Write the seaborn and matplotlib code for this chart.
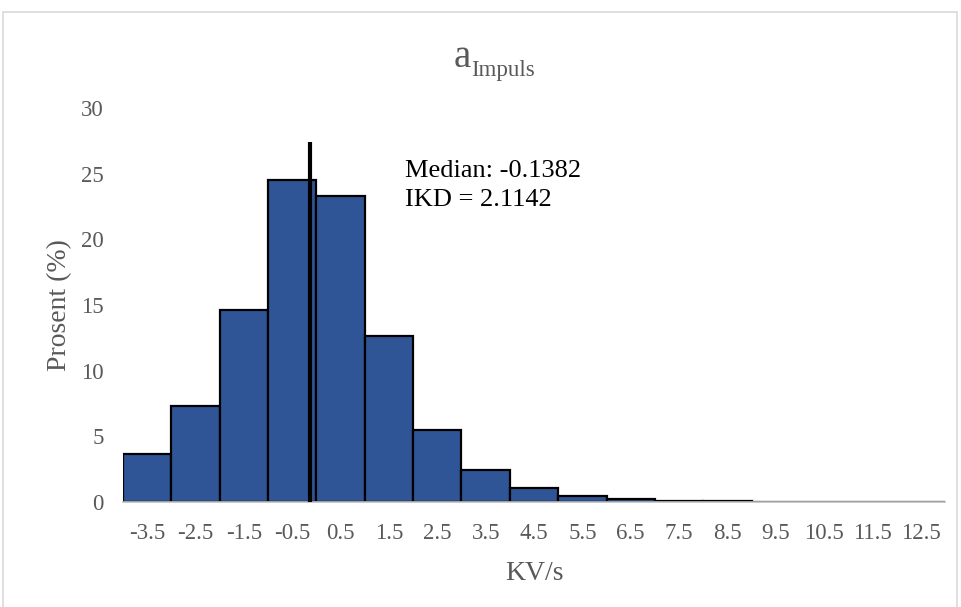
import matplotlib
matplotlib.use("Agg")
import matplotlib.pyplot as plt
import matplotlib.patches as patches
import pandas as pd
import seaborn as sns

# Data
bin_centers = [-3.5, -2.5, -1.5, -0.5, 0.5, 1.5, 2.5, 3.5, 4.5, 5.5, 6.5, 7.5, 8.5, 9.5, 10.5, 11.5, 12.5]
percent = [3.65, 7.3, 14.6, 24.5, 23.3, 12.65, 5.5, 2.45, 1.07, 0.48, 0.22, 0.1, 0.05, 0.03, 0.02, 0.02, 0.02]
tick_labels = ["-3.5", "-2.5", "-1.5", "-0.5", "0.5", "1.5", "2.5", "3.5", "4.5",
               "5.5", "6.5", "7.5", "8.5", "9.5", "10.5", "11.5", "12.5"]
median = -0.1382
ikd = 2.1142
median_line_top = 27.4

sns.set_style("white")
plt.rcParams['font.family'] = ['Liberation Serif', 'DejaVu Serif']

TEXT = '#595959'
BAR = '#2F5597'

df = pd.DataFrame({'center': bin_centers, 'pct': percent})

fig = plt.figure(figsize=(9.62, 6.07), dpi=100)
ax = fig.add_axes([123 / 962, 1 - 502 / 607, (945 - 123) / 962, (502 - 108) / 607])

# one bin per category, width 1
sns.histplot(data=df, x='center', weights='pct', binwidth=1, binrange=(-4, 13),
             color=BAR, edgecolor='black', linewidth=1.6, alpha=1, ax=ax)

ax.vlines(median, 0, median_line_top, color='black', linewidth=3, zorder=5)
ax.text(1.83, 24.1, f"Median: {median}\nIKD = {ikd}", fontsize=19,
        color='black', va='center', ha='left', linespacing=1.4)

ax.set_xlim(-4, 13)
ax.set_ylim(0, 30)
ax.set_xticks(bin_centers)
ax.set_xticklabels(tick_labels)
ax.set_yticks(range(0, 31, 5))
ax.tick_params(axis='both', length=0, labelsize=16.5, colors=TEXT)
ax.tick_params(axis='x', pad=15)
ax.tick_params(axis='y', pad=14)

for s in ['top', 'right', 'left']:
    ax.spines[s].set_visible(False)
ax.spines['bottom'].set_color('#BFBFBF')
ax.spines['bottom'].set_linewidth(1.2)

ax.set_xlabel("KV/s", fontsize=20, color=TEXT)
ax.set_ylabel("Prosent (%)", fontsize=20, color=TEXT)
ax.xaxis.label.set_va('center')
ax.yaxis.label.set_va('center')
ax.xaxis.set_label_coords(0.5, (502 - 573) / 394)
ax.yaxis.set_label_coords((60 - 123) / 822, 0.5)

# title: large "a" with subscript "Impuls"
fig.text(471 / 962, 1 - 67 / 607, "a", fontsize=28, color=TEXT,
         ha='right', va='baseline')
fig.text(471 / 962, 1 - 76 / 607, "Impuls", fontsize=16.5, color=TEXT,
         ha='left', va='baseline')

fig.patches.append(patches.Rectangle((3 / 962, -0.01), 954 / 962, 1.01 - 12 / 607,
                                     transform=fig.transFigure, fill=False,
                                     edgecolor='#D9D9D9', linewidth=1.2))

fig.savefig("out.png", dpi=100)
